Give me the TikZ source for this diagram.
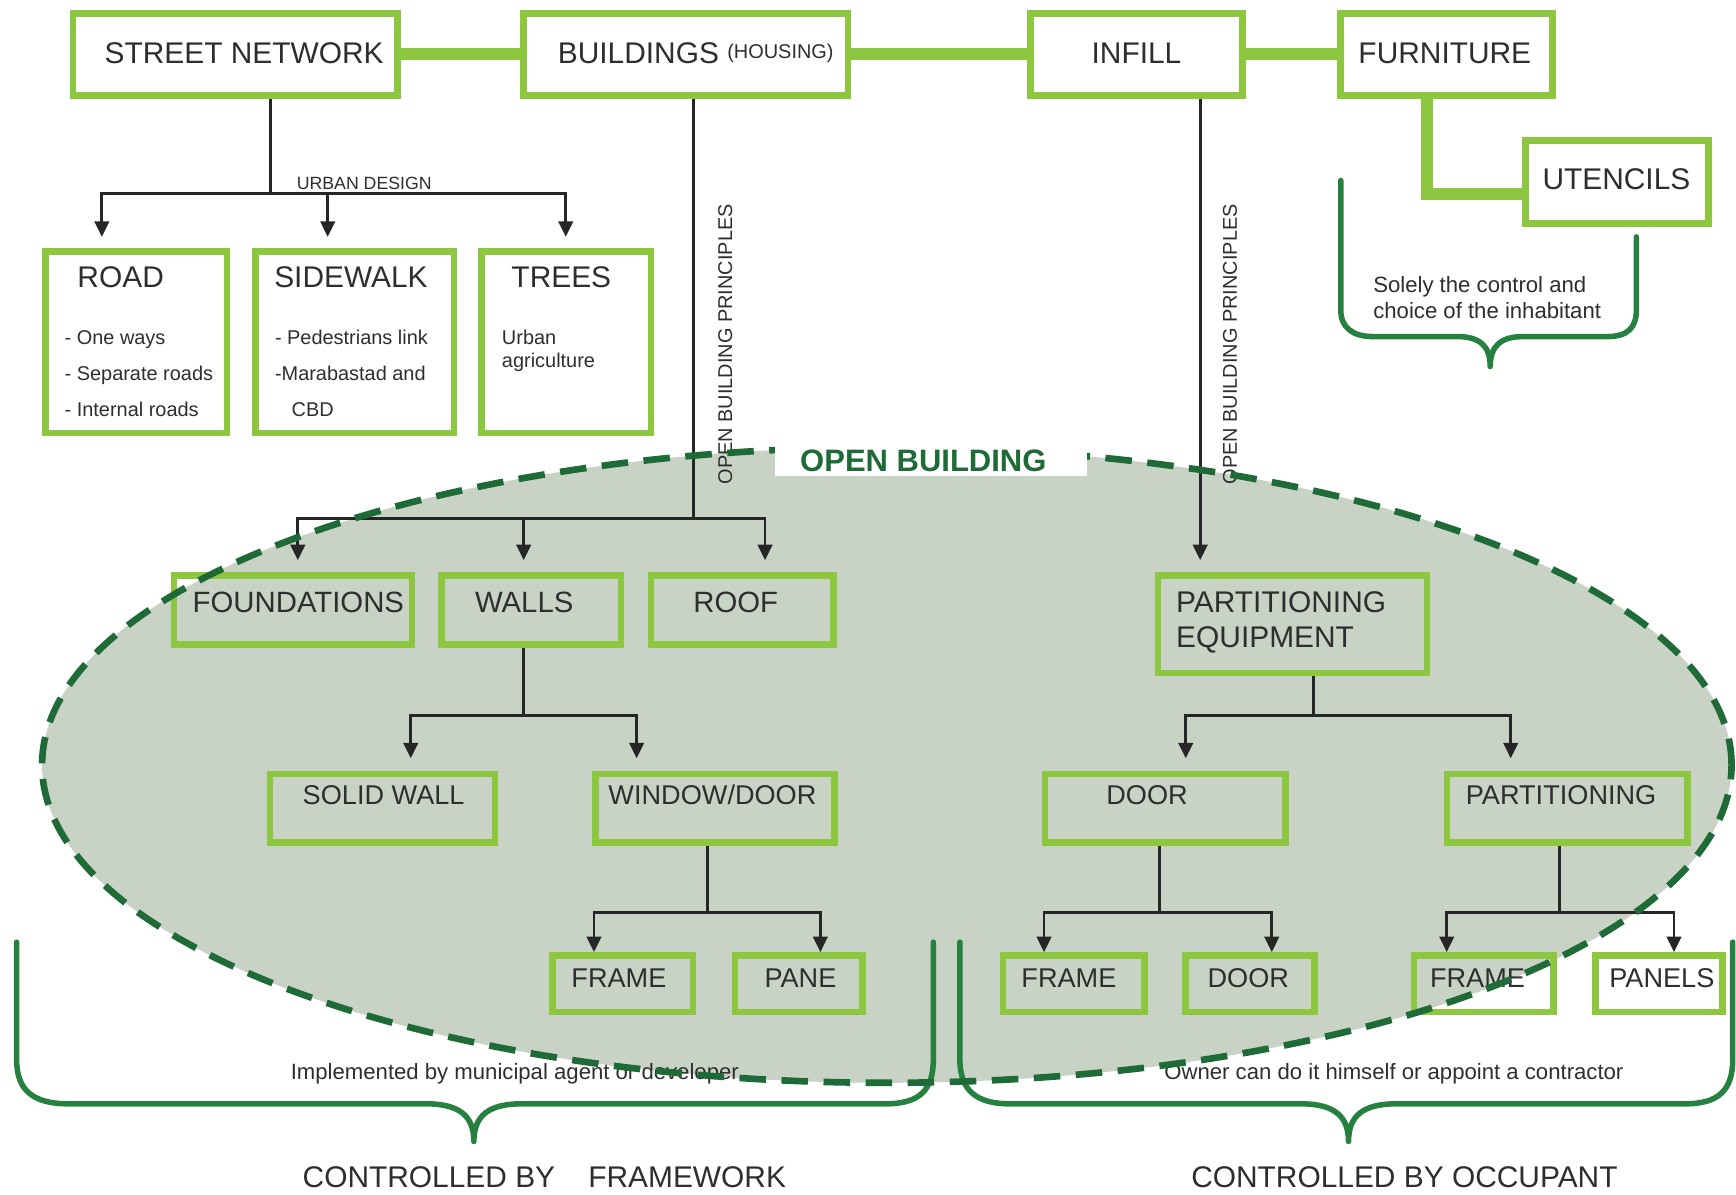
\documentclass[tikz,border=0pt]{standalone}
\usepackage{fontspec}
\setmainfont{Liberation Sans}
\usetikzlibrary{fit,arrows.meta}

\definecolor{boxgreen}{HTML}{8DC63F}
\definecolor{dashgreen}{HTML}{1F6B37}
\definecolor{bracegreen}{HTML}{26803F}
\definecolor{zonefill}{HTML}{C8D3C5}
\definecolor{ink}{HTML}{2E2E2E}
\definecolor{stem}{HTML}{262626}

\tikzset{
  box/.style={draw=boxgreen, line width=3pt, inner sep=0pt, rectangle},
  bar/.style={draw=boxgreen, line width=5.5pt},
  link/.style={draw=stem, line width=1.3pt},
  arr/.style={link, -{Triangle[width=6.5pt,length=7pt]}},
  lbl/.style={text=ink, inner sep=0pt, anchor=base, font=\fontsize{13.5}{16}\selectfont},
  lblm/.style={lbl, font=\fontsize{13.25}{16}\selectfont},
  lbls/.style={lbl, font=\fontsize{12.25}{15}\selectfont},
  note/.style={text=ink, inner sep=0pt, anchor=base west, font=\fontsize{9}{11}\selectfont},
  remark/.style={text=ink, inner sep=0pt, anchor=base, font=\fontsize{10}{12}\selectfont},
  vlabel/.style={text=ink, inner sep=0pt, rotate=90, font=\fontsize{9}{11}\selectfont},
  brace/.style={draw=bracegreen, line width=2.5pt, line join=round, line cap=round},
}

\begin{document}
\begin{tikzpicture}[x=0.5pt,y=-0.5pt]
% canvas
\fill[white] (0,0) rectangle (1568,1079);

% open building zone (fill)
\fill[zonefill] (801,691) ellipse [x radius=381.5pt, y radius=143.5pt];

% braces
\draw[brace] (15,851) -- (15,957) .. controls (15,985) and (30,997) .. (62,997)
  -- (385,997) .. controls (415,997) and (428,1008) .. (428,1031)
  .. controls (428,1008) and (441,997) .. (471,997)
  -- (800,997) .. controls (830,997) and (843,985) .. (843,957) -- (843,851);
\draw[brace] (867,851) -- (867,957) .. controls (867,985) and (882,997) .. (912,997)
  -- (1175,997) .. controls (1205,997) and (1218,1008) .. (1218,1031)
  .. controls (1218,1008) and (1231,997) .. (1261,997)
  -- (1522,997) .. controls (1552,997) and (1565,985) .. (1565,957) -- (1565,851);
\draw[brace] (1211,163) -- (1211,280) .. controls (1211,296) and (1222,304) .. (1240,304)
  -- (1316,304) .. controls (1336,304) and (1346,312) .. (1346,331)
  .. controls (1346,312) and (1356,304) .. (1376,304)
  -- (1452,304) .. controls (1470,304) and (1478,296) .. (1478,280) -- (1478,214);

% top row
\node[box, fit={(66,12) (359,86)}] (sn) {};
\node[box, fit={(473,12) (766,86)}] (bld) {};
\node[box, fit={(931,12) (1122,86)}] (inf) {};
\node[box, fit={(1211,12) (1402,86)}] (fur) {};
\node[box, fit={(1378,127) (1543,202)}] (ute) {};
\draw[bar] (sn.east) -- (bld.west);
\draw[bar] (bld.east) -- (inf.west);
\draw[bar] (inf.east) -- (fur.west);
\draw[bar] ([xshift=-8.75pt]fur.south) |- ([yshift=-5.25pt]ute.west);

\node[lbl] (sn-t) at (220.5,57) {STREET NETWORK};
\node[lbl, anchor=base west] (bld-t) at (503.5,57) {BUILDINGS \raisebox{2pt}{\fontsize{9}{11}\selectfont (HOUSING)}};
\node[lbl] (inf-t) at (1026.5,57) {INFILL};
\node[lbl] (fur-t) at (1305,57) {FURNITURE};
\node[lbl] (ute-t) at (1460,171.5) {UTENCILS};

% street network branch
\node[box, fit={(41,227) (205,391)}] (road) {};
\node[box, fit={(231,227) (410,391)}] (walk) {};
\node[box, fit={(435,227) (588,391)}] (trees) {};
\node[lbl] (road-t) at (109,260) {ROAD};
\node[lbl] (walk-t) at (317,260) {SIDEWALK};
\node[lbl] (trees-t) at (507,260) {TREES};
\node[note] (road-a) at (58,311) {- One ways};
\node[note] (road-b) at (58,344) {- Separate roads};
\node[note] (road-c) at (58,376) {- Internal roads};
\node[note] (walk-a) at (248,311) {- Pedestrians link};
\node[note] (walk-b) at (248,344) {-Marabastad and};
\node[note] (walk-c) at (263,376) {CBD};
\node[note] (trees-a) at (453,311) {Urban};
\node[note] (trees-b) at (453,332) {agriculture};

\coordinate (snj) at (244,175);
\draw[link] (sn.south -| snj) -- (snj);
\draw[arr, shorten >=5pt] (snj) -| ([xshift=-15.5pt]road.north);
\draw[arr, shorten >=5pt] (snj) -| ([xshift=-12.25pt]walk.north);
\draw[arr, shorten >=5pt] (snj) -| ([xshift=-0.25pt]trees.north);
\node[text=ink, inner sep=0pt, anchor=base, font=\fontsize{8}{10}\selectfont] (urb) at (329,171) {URBAN DESIGN};

% buildings branch
\node[box, fit={(157,520) (372,582)}] (fnd) {};
\node[box, fit={(399,520) (561,582)}] (walls) {};
\node[box, fit={(588,520) (753,582)}] (roof) {};
\node[box, fit={(244,699) (447,761)}] (solid) {};
\node[box, fit={(538,699) (754,761)}] (wd) {};
\node[box, fit={(499,863) (626,914)}] (wdframe) {};
\node[box, fit={(664,863) (779,914)}] (pane) {};

\coordinate (bj) at (626,468);
\draw[link] (bld.south -| bj) -- (bj);
\draw[arr, shorten >=5.5pt] (bj) -| ([xshift=2.25pt]fnd.north);
\draw[arr, shorten >=5.5pt] (bj) -| ([xshift=-3.5pt]walls.north);
\draw[arr, shorten >=5.5pt] (bj) -| ([xshift=10.25pt]roof.north);
\node[vlabel] (bld-v) at (655,311) {OPEN BUILDING PRINCIPLES};

\coordinate (wj) at (473,646);
\draw[link] (walls.south -| wj) -- (wj);
\draw[arr, shorten >=5.5pt] (wj) -| ([xshift=12.75pt]solid.north);
\draw[arr, shorten >=5.5pt] (wj) -| ([xshift=-35.5pt]wd.north);

\coordinate (wdj) at (639,824);
\draw[link] (wd.south -| wdj) -- (wdj);
\draw[arr] (wdj) -| ([xshift=-13pt]wdframe.north);
\draw[arr] (wdj) -| ([xshift=9.75pt]pane.north);

\node[lblm] (fnd-t) at (269.5,553) {FOUNDATIONS};
\node[lblm] (walls-t) at (473.5,553) {WALLS};
\node[lblm] (roof-t) at (664.5,553) {ROOF};
\node[lbls] (solid-t) at (346.5,727) {SOLID WALL};
\node[lbls] (wd-t) at (643.5,727) {WINDOW/DOOR};
\node[lbls] (wdframe-t) at (559,892) {FRAME};
\node[lbls] (pane-t) at (723,892) {PANE};

% infill branch
\node[box, fit={(1046,520) (1289,608)}] (pe) {};
\node[box, fit={(944,699) (1161,761)}] (door) {};
\node[box, fit={(1307,699) (1524,761)}] (part) {};
\node[box, fit={(906,863) (1034,914)}] (dframe) {};
\node[box, fit={(1071,863) (1187,914)}] (dleaf) {};
\node[box, fit={(1277,863) (1403,914)}] (pframe) {};
\node[box, fit={(1441,863) (1556,914)}] (panels) {};

\coordinate (ij) at (1084,300);
\draw[arr, shorten >=5.5pt] (inf.south -| ij) -- (pe.north -| ij);
\node[vlabel] (inf-v) at (1111,311) {OPEN BUILDING PRINCIPLES};

\coordinate (pej) at (1186.5,646);
\draw[link] (pe.south -| pej) -- (pej);
\draw[arr, shorten >=5.5pt] (pej) -| ([xshift=9.25pt]door.north);
\draw[arr, shorten >=5.5pt] (pej) -| ([xshift=-25.5pt]part.north);

\coordinate (dj) at (1047,824);
\draw[link] (door.south -| dj) -- (dj);
\draw[arr] (dj) -| ([xshift=-13.5pt]dframe.north);
\draw[arr] (dj) -| ([xshift=9.85pt]dleaf.north);

\coordinate (pj) at (1408.5,824);
\draw[link] (part.south -| pj) -- (pj);
\draw[arr] (pj) -| ([xshift=-16.65pt]pframe.north);
\draw[arr] (pj) -| ([xshift=6.75pt]panels.north);

\node[lbl, anchor=base west] (pe-t1) at (1062,553) {PARTITIONING};
\node[lbl, anchor=base west] (pe-t2) at (1062,585) {EQUIPMENT};
\node[lbls] (door-t) at (1036,727) {DOOR};
\node[lbls] (part-t) at (1410,727) {PARTITIONING};
\node[lbls] (dframe-t) at (965.5,892) {FRAME};
\node[lbls] (dleaf-t) at (1127.5,892) {DOOR};
\node[lbls] (pframe-t) at (1334.5,892) {FRAME};
\node[lbls] (panels-t) at (1501,892) {PANELS};

% remarks and responsibility captions
\node[remark, anchor=base west] (inh-a) at (1240,264) {Solely the control and};
\node[remark, anchor=base west] (inh-b) at (1240,288) {choice of the inhabitant};
\node[remark] (dev) at (465,975) {Implemented by municipal agent or developer};
\node[remark] (own) at (1259,975) {Owner can do it himself or appoint a contractor};
\node[lbl, anchor=base west] (fw) at (273,1073) {CONTROLLED BY\hspace{15pt}FRAMEWORK};
\node[lbl] (occ) at (1268.5,1073) {CONTROLLED BY OCCUPANT};

% open building zone (outline) and its title
\draw[dashgreen, line width=3pt, dash pattern=on 12pt off 7pt] (801,691) ellipse [x radius=381.5pt, y radius=143.5pt];
\fill[white] (700,378) rectangle (982,430);
\node[text=dashgreen, inner sep=0pt, anchor=base, font=\bfseries\fontsize{14}{16}\selectfont] (ob) at (834,426) {OPEN BUILDING};
\end{tikzpicture}
\end{document}
